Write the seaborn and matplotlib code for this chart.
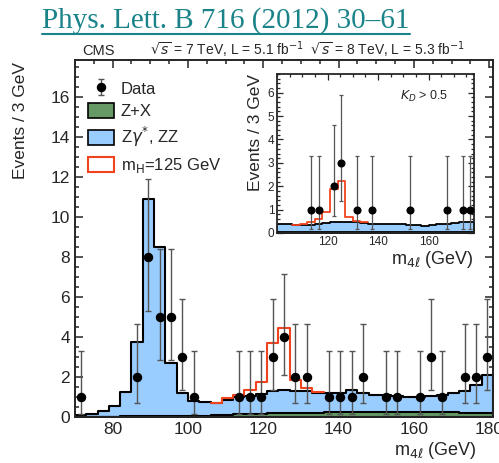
import numpy as np
import pandas as pd
import matplotlib
matplotlib.use('Agg')
import matplotlib.pyplot as plt
from matplotlib.patches import Patch
from matplotlib.lines import Line2D
from matplotlib.ticker import MultipleLocator
import seaborn as sns

# 3 GeV bins from 70 to 181 GeV
edges = np.arange(70, 182, 3)

# expected events per bin (stacked: Z+X at the bottom, ZZ on top, Higgs on top of that)
zx = [0.02, 0.02, 0.02, 0.02, 0.03, 0.03, 0.03, 0.03, 0.04, 0.04,
      0.05, 0.07, 0.09, 0.11, 0.13, 0.15, 0.17, 0.18, 0.19, 0.20,
      0.21, 0.22, 0.23, 0.24, 0.24, 0.25, 0.25, 0.25, 0.25, 0.25,
      0.24, 0.24, 0.23, 0.23, 0.22, 0.22, 0.21]
zz = [0.08, 0.13, 0.28, 0.53, 1.22, 3.72, 10.87, 8.47, 2.66, 1.16,
      0.73, 0.68, 0.59, 0.74, 0.85, 0.90, 0.98, 1.10, 1.17, 1.10,
      1.07, 0.98, 0.97, 0.98, 1.11, 0.95, 0.87, 0.85, 0.80, 0.73,
      0.76, 0.81, 0.87, 0.97, 1.08, 1.38, 1.89]
higgs = [0, 0, 0, 0, 0, 0, 0, 0, 0, 0,
         0, 0, 0.04, 0.10, 0.12, 0.31, 0.62, 2.40, 3.08, 0.56,
         0.16, 0.05, 0, 0, 0, 0, 0, 0, 0, 0,
         0, 0, 0, 0, 0, 0, 0]

# observed events (non-empty bins only)
data_mass = [71.5, 86.5, 89.5, 92.5, 95.5, 98.5, 101.5, 113.5, 116.5, 119.5,
             122.5, 125.5, 128.5, 131.5, 137.5, 140.5, 143.5, 146.5, 152.5,
             155.5, 161.5, 164.5, 167.5, 173.5, 176.5, 179.5]
data_n = [1, 2, 8, 5, 5, 3, 1, 1, 1, 1,
          3, 4, 2, 2, 1, 1, 1, 2, 1,
          1, 1, 3, 1, 2, 2, 3]

# error bar ends (Poisson intervals), by event count
err_low = {1: 0.17, 2: 0.71, 3: 1.37, 4: 2.09, 5: 2.84, 8: 5.32}
err_high = {1: 3.30, 2: 4.64, 3: 5.92, 4: 7.16, 5: 8.38, 8: 11.9}

# inset: K_D > 0.5, 100-178 GeV
kd_edges = np.arange(100, 179, 3)
kd_zx = [0.04, 0.04, 0.05, 0.05, 0.05, 0.05, 0.05, 0.06, 0.06, 0.06,
         0.06, 0.06, 0.06, 0.06, 0.06, 0.06, 0.06, 0.06, 0.06, 0.06,
         0.06, 0.05, 0.05, 0.05, 0.05, 0.05]
kd_zz = [0.34, 0.34, 0.28, 0.28, 0.30, 0.35, 0.37, 0.41, 0.42, 0.41,
         0.39, 0.36, 0.34, 0.34, 0.34, 0.32, 0.32, 0.30, 0.30, 0.24,
         0.30, 0.33, 0.35, 0.37, 0.40, 0.43]
kd_higgs = [0, 0, 0.03, 0.06, 0.12, 0.20, 0.46, 1.43, 1.74, 0.20,
            0.05, 0.03, 0, 0, 0, 0, 0, 0, 0, 0,
            0, 0, 0, 0, 0, 0]
kd_mass = [113.5, 116.5, 122.5, 125.5, 131.5, 137.5, 152.5, 167.5, 173.5, 176.5]
kd_n = [1, 1, 2, 3, 1, 1, 1, 1, 1, 1]
kd_ticks = [120, 140, 160]

green = '#669966'
blue = '#99ccff'
red = '#f0431e'
teal = '#1a8389'

sns.set_style('ticks')
plt.rcParams['font.family'] = ['Liberation Sans', 'DejaVu Sans']


def draw_stack(ax, bins, zx, zz, higgs, lw):
    df = pd.DataFrame({'mass': bins[:-1] + 1.5, 'zx': zx, 'zz': zz, 'higgs': higgs})
    df['bkg'] = df['zx'] + df['zz']
    df['tot'] = df['bkg'] + df['higgs']
    b = [float(v) for v in bins]
    sns.histplot(data=df, x='mass', weights='bkg', bins=b, element='step', fill=True,
                 color=blue, alpha=1, edgecolor='black', linewidth=lw, ax=ax)
    sns.histplot(data=df, x='mass', weights='zx', bins=b, element='step', fill=True,
                 color=green, alpha=1, edgecolor='black', linewidth=lw, ax=ax)
    idx = np.nonzero(df['higgs'].values)[0]
    lo, hi = idx[0], idx[-1] + 1
    sns.histplot(data=df.iloc[lo:hi], x='mass', weights='tot', bins=b[lo:hi + 1],
                 element='step', fill=False, color=red, linewidth=lw, ax=ax)


def draw_data(ax, mass, n, ms, lw, cap):
    lo = [k - err_low[k] for k in n]
    hi = [err_high[k] - k for k in n]
    return ax.errorbar(mass, n, yerr=[lo, hi], fmt='o', color='black', ecolor='#555555',
                       elinewidth=lw, capsize=cap, capthick=lw, markersize=ms, zorder=5)


fig = plt.figure(figsize=(4.99, 4.63), dpi=100)

# main panel
ax = fig.add_axes([75 / 499, 1 - 417 / 463, 418 / 499, 357 / 463])
draw_stack(ax, edges, zx, zz, higgs, 1.5)
eb = draw_data(ax, data_mass, data_n, 5.8, 1.0, 2)
ax.set_xlim(70, 181)
ax.set_ylim(0, 17.85)
ax.xaxis.set_major_locator(MultipleLocator(20))
ax.xaxis.set_minor_locator(MultipleLocator(5))
ax.yaxis.set_major_locator(MultipleLocator(2))
ax.yaxis.set_minor_locator(MultipleLocator(0.5))
ax.tick_params(which='both', direction='in', top=True, right=True, labelsize=12.5, width=1.1)
ax.tick_params(which='major', length=6)
ax.tick_params(which='minor', length=3)
for s in ax.spines.values():
    s.set_linewidth(1.4)
ax.set_ylabel('Events / 3 GeV', fontsize=12.5, loc='top')
ax.yaxis.set_label_coords(-0.112, 0.995)
ax.set_xlabel(r'm$_{4\ell}$ (GeV)', fontsize=13, loc='right')
ax.xaxis.set_label_coords(0.962, -0.065)

handles = [eb,
           Patch(facecolor=green, edgecolor='black', linewidth=1.2),
           Patch(facecolor=blue, edgecolor='black', linewidth=1.2),
           Patch(facecolor='white', edgecolor=red, linewidth=1.5)]
labels = ['Data', 'Z+X', r'Z$\gamma^{*}$, ZZ', r'm$_\mathrm{H}$=125 GeV']
ax.legend(handles, labels, loc='upper left', bbox_to_anchor=(0.03, 0.943), frameon=False,
          fontsize=12, handlelength=1.6, handleheight=1.0, labelspacing=0.38,
          handletextpad=0.4, borderaxespad=0, borderpad=0)

# inset panel
ax_in = fig.add_axes([277 / 499, 1 - 233 / 463, 197 / 499, 159 / 463])
draw_stack(ax_in, kd_edges, kd_zx, kd_zz, kd_higgs, 1.3)
draw_data(ax_in, kd_mass, kd_n, 4.8, 0.9, 1.5)
ax_in.set_xlim(100, 178)
ax_in.set_ylim(0, 6.8)
ax_in.set_xticks(kd_ticks)
ax_in.xaxis.set_minor_locator(MultipleLocator(5))
ax_in.yaxis.set_major_locator(MultipleLocator(1))
ax_in.yaxis.set_minor_locator(MultipleLocator(0.2))
ax_in.tick_params(which='both', direction='in', top=True, right=True, labelsize=8.5, width=0.9, pad=2)
ax_in.tick_params(which='major', length=4)
ax_in.tick_params(which='minor', length=2)
for s in ax_in.spines.values():
    s.set_linewidth(1.3)
ax_in.set_ylabel('Events / 3 GeV', fontsize=12.5, loc='top', labelpad=3)
ax_in.set_xlabel(r'm$_{4\ell}$ (GeV)', fontsize=13, loc='right', labelpad=1)
ax_in.text(0.87, 0.86, r'$K_D$ > 0.5', transform=ax_in.transAxes, ha='right', va='center', fontsize=9)

# header lines
fig.text(82 / 499, 1 - 55 / 463, 'CMS', fontsize=10.5, va='baseline')
fig.text(150 / 499, 1 - 55 / 463,
         r'$\sqrt{s}$ = 7 TeV, L = 5.1 fb$^{-1}$  $\sqrt{s}$ = 8 TeV, L = 5.3 fb$^{-1}$',
         fontsize=10, va='baseline')

title = fig.text(42 / 499, 1 - 28 / 463, 'Phys. Lett. B 716 (2012) 30\u201361',
                 family='Liberation Serif', fontsize=21, color=teal, va='baseline')
fig.canvas.draw()
bb = title.get_window_extent()
fig.add_artist(Line2D([bb.x0 / fig.bbox.width, bb.x1 / fig.bbox.width],
                      [1 - 34 / 463, 1 - 34 / 463], transform=fig.transFigure,
                      color=teal, linewidth=1.5))

fig.savefig('out.png', dpi=100)
